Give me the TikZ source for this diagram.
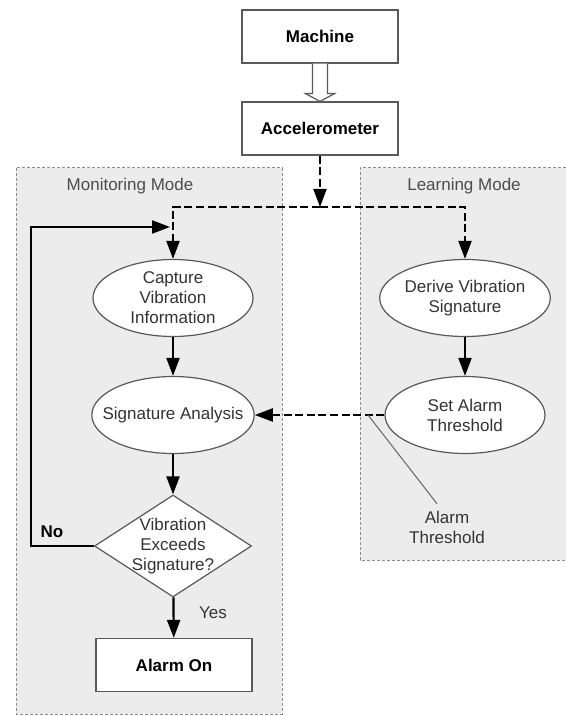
\documentclass[tikz,border=0pt]{standalone}
\usepackage{fontspec}
\setmainfont{Liberation Sans}
\usetikzlibrary{arrows.meta,shapes.geometric,calc}

\begin{document}
\begin{tikzpicture}[x=0.5pt,y=-0.5pt,
    every node/.style={font=\fontsize{8.5pt}{10pt}\selectfont, text=black!80},
    box/.style={draw=black!65, line width=0.6pt, fill=white, minimum width=78pt, minimum height=26.5pt, inner sep=0pt, text=black, font=\fontsize{8.5pt}{10pt}\selectfont\bfseries},
    oval/.style={ellipse, draw=black!65, line width=0.6pt, fill=white, minimum width=80pt, minimum height=38.5pt, inner sep=0pt, align=center},
    decision/.style={diamond, draw=black!65, line width=0.6pt, fill=white, minimum width=78.5pt, minimum height=51pt, inner sep=0pt},
    flow/.style={draw=black, line width=1.1pt, -{Triangle[length=9pt,width=6.5pt]}},
    dashflow/.style={flow, dash pattern=on 4pt off 1.8pt},
    paneledge/.style={draw=black!45, line width=0.5pt, dash pattern=on 1.5pt off 1pt},
    hollow/.style={draw=black!65, line width=0.6pt, fill=white},
    pointer/.style={draw=black!60, line width=0.5pt}]

\def\PANELCOLOR{gray!15}
    \useasboundingbox (0,0) rectangle (566,716);

    % mode panels
    \fill[\PANELCOLOR] (16,168) rectangle (282,714);
    \draw[paneledge] (16,168) rectangle (282,714);
    \fill[\PANELCOLOR] (360,168) rectangle (566,560);
    \draw[paneledge] (566,168) -- (360,168) -- (360,560) -- (566,560);
    \node[text=black!70] (monitorlabel) at (130,186) {Monitoring Mode};
    \node[text=black!70] (learnlabel) at (464,186) {Learning Mode};

    % boxes
    \node[box] (machine) at (320,36.5) {Machine};
    \node[box] (accel) at (320,128.5) {Accelerometer};
    \node[box] (alarm) at (174,665) {Alarm On};

    % ellipses
    \node[oval] (capture) at (173,298) {Capture\\Vibration\\Information};
    \node[oval] (derive) at (465,298) {Derive Vibration\\Signature};
    \node[oval, inner xsep=-6.5pt] (signature) at (173,415) {Signature Analysis};
    \node[oval] (setalarm) at (465,415) {Set Alarm\\Threshold};

    % decision
    \node[decision] (decide) at (173,546) {};
    \node[align=center, inner sep=0pt] (decidetext) at (decide) {Vibration\\Exceeds\\Signature?};

    % hollow arrow
    \draw[hollow] ($(machine.south)+(-7.5,0)$) -- ++(0,30) -- ++(-7,0) -- (accel.north)
        -- ($(machine.south)+(14.5,30)$) -- ++(-7,0) -- ($(machine.south)+(7.5,0)$);

    % connectors
    \coordinate (split) at (320,207);
    \draw[dashflow] (accel) -- (split);
    \draw[dashflow] (split) -| (capture);
    \draw[dashflow] (split) -| (derive);
    \draw[flow] (capture) -- (signature);
    \draw[flow] (signature) -- (decide);
    \draw[flow] (decide) -- (alarm);
    \draw[flow] (derive) -- (setalarm);
    \draw[dashflow] (setalarm) -- (signature);

    \coordinate (loopcorner) at (31,227);
    \coordinate (loopend) at (170,227);
    \draw[flow] (decide.west) -| (loopcorner) -- (loopend);
    \node[text=black, font=\fontsize{8.5pt}{10pt}\selectfont\bfseries] (nolabel) at (52,532) {No};
    \node (yeslabel) at (213,613) {Yes};

    % threshold callout
    \node[align=center] (thresh) at (447,527) {Alarm\\Threshold};
    \coordinate (tick) at (368,415);
    \draw[pointer] (tick) -- ([xshift=-5pt]thresh.north);

\end{tikzpicture}
\end{document}
